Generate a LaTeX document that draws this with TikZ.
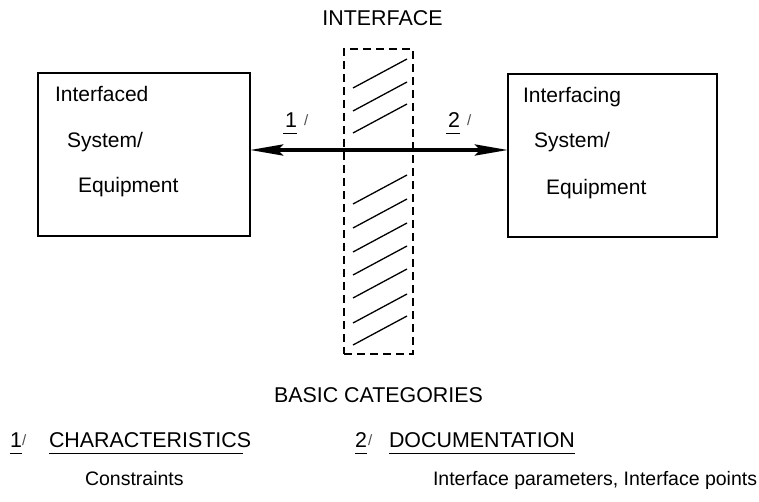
\documentclass[tikz,border=0pt]{standalone}
\usepackage{fontspec}
\setmainfont{Liberation Sans}
\usetikzlibrary{arrows.meta}
\tikzset{
  boxnode/.style={draw, line width=1.2pt, inner sep=0pt, outer sep=0pt},
  ifacebox/.style={draw, line width=1.2pt, dash pattern=on 8pt off 5pt, inner sep=0pt, outer sep=0pt},
  txt/.style={inner sep=0pt, outer sep=0pt, anchor=base west, font=\fontsize{19.5}{22}\selectfont},
  captxt/.style={inner sep=0pt, outer sep=0pt, anchor=base west, font=\fontsize{21.4}{24}\selectfont},
  boxtxt/.style={inner sep=0pt, outer sep=0pt, anchor=base west, font=\fontsize{21}{24}\selectfont},
  slashtxt/.style={inner sep=0pt, outer sep=0pt, anchor=base west, text=black!70, font=\fontsize{15}{16}\selectfont},
  hatch/.style={line width=1.3pt},
  uline/.style={line width=1pt},
  bigarrow/.style={line width=4pt, {Stealth[length=33pt,width=11pt,inset=5pt]}-{Stealth[length=33pt,width=11pt,inset=5pt]}}
}
\begin{document}
\begin{tikzpicture}[x=1pt,y=-1pt]
\useasboundingbox (0,0) rectangle (759,502);
% boxes
\node[boxnode, minimum width=212pt, minimum height=163pt] (lbox) at (144,154.5) {};
\node[boxnode, minimum width=209pt, minimum height=163pt] (rbox) at (612.5,155.5) {};
\node[ifacebox, minimum width=69pt, minimum height=305pt] (iface) at (378.5,201.5) {};
% title
\node[captxt, anchor=base] (ttl) at (382.5,26) {INTERFACE};
% hatch lines
\foreach \yy in {88,111,133,204,228,252,275,298,323,345}
  \draw[hatch] (353,\yy) -- (407,\yy-29);
% box texts
\node[boxtxt] (l1) at (55,102) {Interfaced};
\node[boxtxt] (l2) at (67,148) {System/};
\node[boxtxt] (l3) at (78,193) {Equipment};
\node[boxtxt] (r1) at (523,103) {Interfacing};
\node[boxtxt] (r2) at (534,148) {System/};
\node[boxtxt] (r3) at (546,195) {Equipment};
% arrow
\coordinate (ay) at (0,150);
\draw[bigarrow] (lbox.east |- ay) -- (rbox.west |- ay);
% arrow labels
\node[captxt] (n1) at (285,128) {1};
\node[slashtxt] (s1) at (304,126) {/};
\draw[uline] ([yshift=-6pt]n1.base west) ++(-2,0) -- ([yshift=-6pt]n1.base east);
\node[captxt] (n2) at (448,128) {2};
\node[slashtxt] (s2) at (467,126) {/};
\draw[uline] ([yshift=-6pt]n2.base west) ++(-2,0) -- ([yshift=-6pt]n2.base east);
% basic categories
\node[captxt] (basic) at (274,402) {BASIC CATEGORIES};
\node[captxt] (b1) at (10,447) {1};
\node[slashtxt] (bs1) at (22,445) {/};
\draw[uline] ([yshift=-6pt]b1.base west) -- ([yshift=-6pt]b1.base east);
\node[captxt] (char) at (49,447) {CHARACTERISTICS};
\draw[uline] ([yshift=-6pt]char.base west) -- ([xshift=-8pt,yshift=-6pt]char.base east);
\node[captxt] (b2) at (355,447) {2};
\node[slashtxt] (bs2) at (368,445) {/};
\draw[uline] ([yshift=-6pt]b2.base west) -- ([yshift=-6pt]b2.base east);
\node[captxt] (doc) at (389,447) {DOCUMENTATION};
\draw[uline] ([yshift=-6pt]doc.base west) -- ([yshift=-6pt]doc.base east);
\node[txt] (cons) at (85,485) {Constraints};
\node[txt] (ipar) at (433,485) {Interface parameters, Interface points};
\end{tikzpicture}
\end{document}
